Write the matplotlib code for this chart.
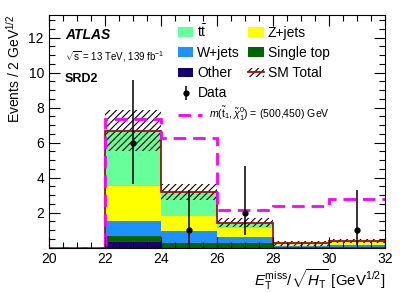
import numpy as np
import matplotlib
matplotlib.use("Agg")
import matplotlib.pyplot as plt
from matplotlib.patches import Patch
from matplotlib.lines import Line2D
from matplotlib.ticker import MultipleLocator

plt.rcParams['font.family'] = ['Liberation Sans', 'DejaVu Sans']
plt.rcParams['mathtext.fontset'] = 'custom'
plt.rcParams['mathtext.rm'] = 'Liberation Sans'
plt.rcParams['mathtext.it'] = 'Liberation Sans:italic'
plt.rcParams['mathtext.bf'] = 'Liberation Sans:bold'
plt.rcParams['hatch.linewidth'] = 0.8

# ---- data ----
edges = [20, 22, 24, 26, 28, 30, 32]
other = [0.0, 0.34, 0.0, 0.0, 0.0, 0.0]
single_top = [0.0, 0.33, 0.27, 0.25, 0.03, 0.05]
wjets = [0.0, 0.83, 0.68, 0.34, 0.07, 0.10]
zjets = [0.0, 2.00, 0.85, 0.51, 0.10, 0.15]
ttbar = [0.0, 3.19, 1.38, 0.33, 0.05, 0.08]
sm_unc = [0.0, 1.17, 0.48, 0.24, 0.14, 0.13]
signal = [0.0, 7.34, 6.25, 2.17, 2.38, 2.77]
data_x = [23, 25, 27, 31]
data_y = [6, 1, 2, 1]
data_err_lo = [2.38, 0.83, 1.29, 0.83]
data_err_hi = [3.58, 2.30, 2.64, 2.30]

colors = {"ttbar": "#66ff99", "zjets": "#ffff00", "wjets": "#1e90ff",
          "single_top": "#006400", "other": "#14006e"}

fig = plt.figure(figsize=(4.07, 2.92), dpi=100)
ax = fig.add_axes([0.120, 0.152, 0.826, 0.797])

edges_a = np.array(edges, dtype=float)
stack = [("other", other), ("single_top", single_top), ("wjets", wjets),
         ("zjets", zjets), ("ttbar", ttbar)]
base = np.zeros(len(edges) - 1)
handles = {}
for name, vals in stack:
    top = base + np.array(vals)
    ax.stairs(top, edges_a, baseline=base, fill=True, color=colors[name], lw=0)
    handles[name] = Patch(facecolor=colors[name], edgecolor='none')
    base = top
sm = base
unc = np.array(sm_unc)
ax.stairs(sm + unc, edges_a, baseline=sm - unc, fill=True, facecolor='none',
          edgecolor='black', hatch='/////', lw=0)
ax.stairs(sm, edges_a, baseline=None, color='#a01010', lw=1.3)
ax.stairs(signal, edges_a, baseline=None, color='#ff00ff', lw=2.0,
          linestyle=(0, (4.5, 2.5)))
eb = ax.errorbar(data_x, data_y, yerr=[data_err_lo, data_err_hi], fmt='o',
                 color='black', ms=3.5, elinewidth=1.1, capsize=0)

ax.set_xlim(20, 32)
ax.set_ylim(0, 13.3)
ax.xaxis.set_major_locator(MultipleLocator(2))
ax.xaxis.set_minor_locator(MultipleLocator(0.5))
ax.yaxis.set_major_locator(MultipleLocator(2))
ax.yaxis.set_minor_locator(MultipleLocator(0.5))
ax.set_yticks([2, 4, 6, 8, 10, 12])
ax.tick_params(which='both', direction='in', top=True, right=True,
               labelsize=10, width=0.8)
ax.tick_params(which='major', length=8)
ax.tick_params(which='minor', length=4)
for s in ax.spines.values():
    s.set_linewidth(0.8)

ax.set_ylabel(r"Events / 2 GeV$^{1/2}$", fontsize=10, loc='top', labelpad=4)
ax.set_xlabel(r"$E_{\mathrm{T}}^{\mathrm{miss}}/\sqrt{H_{\mathrm{T}}}$ [GeV$^{1/2}$]",
              fontsize=10.8, loc='right', labelpad=1)

ax.text(0.048, 0.914, "ATLAS", transform=ax.transAxes, fontsize=10,
        fontweight='bold', fontstyle='italic', va='center')
ax.text(0.048, 0.819, r"$\sqrt{\mathrm{s}}$ = 13 TeV, 139 fb$^{-1}$",
        transform=ax.transAxes, fontsize=7, va='center')
ax.text(0.048, 0.725, "SRD2", transform=ax.transAxes, fontsize=9,
        fontweight='bold', va='center')

sm_handle = (Patch(facecolor='none', edgecolor='black', hatch='/////', lw=0),
             Line2D([0], [0], color='#a01010', lw=1.3))
data_handle = eb
h = [handles["ttbar"], handles["wjets"], handles["other"], data_handle,
     handles["zjets"], handles["single_top"], sm_handle]
l = [r"$\mathrm{t\bar{t}}$", "W+jets", "Other", "Data", "Z+jets",
     "Single top", "SM Total"]
leg = ax.legend(h, l, ncol=2, loc='upper left', bbox_to_anchor=(0.384, 0.965),
                frameon=False, fontsize=10, handlelength=1.1, handleheight=0.7,
                handletextpad=0.3, labelspacing=0.45, columnspacing=0.6,
                borderpad=0, borderaxespad=0)
ax.add_artist(leg)
sig_handle = Line2D([0], [0], color='#ff00ff', lw=2.0, linestyle=(0, (4.5, 2.5)))
ax.legend([sig_handle],
          [r"$m(\mathrm{\tilde{t}}_1,\tilde{\chi}^0_1)$ = (500,450) GeV"],
          loc='upper left', bbox_to_anchor=(0.384, 0.612), frameon=False,
          fontsize=7.6, handlelength=2.3, handletextpad=0.6, borderpad=0,
          borderaxespad=0)

fig.savefig("out.png", dpi=100)
